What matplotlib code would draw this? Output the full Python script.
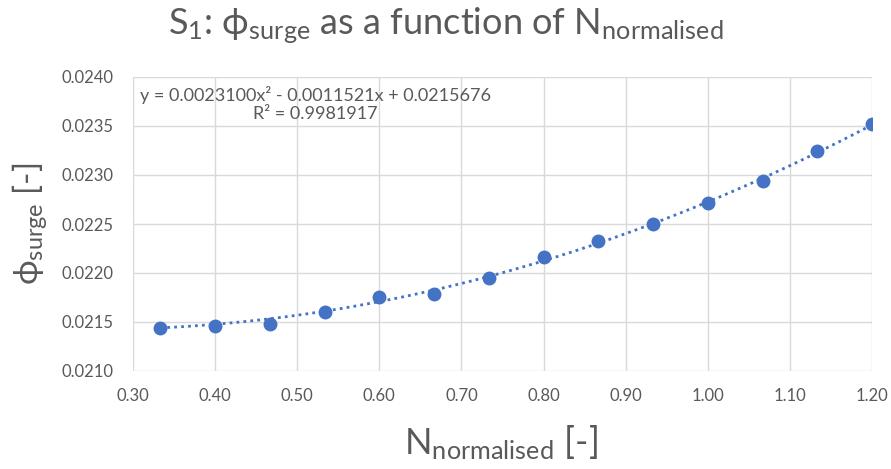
import matplotlib
matplotlib.use("Agg")
import matplotlib.pyplot as plt
import numpy as np
from matplotlib.ticker import FormatStrFormatter, MultipleLocator

# data
n_norm = [0.3333, 0.4000, 0.4667, 0.5333, 0.6000, 0.6667, 0.7333,
          0.8000, 0.8667, 0.9333, 1.0000, 1.0667, 1.1333, 1.2000]
phi_surge = [0.02144, 0.02146, 0.02148, 0.02160, 0.02176, 0.02179, 0.02195,
             0.02216, 0.02233, 0.02250, 0.02271, 0.02294, 0.02324, 0.02352]
# trendline as printed on the chart
coeffs = [0.0023100, -0.0011521, 0.0215676]
r2 = 0.9981917

blue = "#4472C4"
grey = "#595959"

plt.rcParams["font.family"] = ["Lato", "DejaVu Sans"]
plt.rcParams["mathtext.fontset"] = "custom"
plt.rcParams["mathtext.rm"] = "Lato"
plt.rcParams["mathtext.it"] = "Lato:italic"

W, H = 891, 469
fig = plt.figure(figsize=(W / 100, H / 100), dpi=100)
ax = fig.add_axes([133 / W, 1 - 371 / H, 739 / W, 294 / H])

xs = np.linspace(min(n_norm), max(n_norm), 200)
ax.plot(xs, np.polyval(coeffs, xs), color=blue, lw=2.0,
        linestyle=(0, (1, 1.5)), dash_capstyle="butt", zorder=2)
ax.plot(n_norm, phi_surge, "o", color=blue, ms=9, zorder=3)

ax.set_xlim(0.30, 1.20)
ax.set_ylim(0.0210, 0.0240)
ax.xaxis.set_major_locator(MultipleLocator(0.1))
ax.yaxis.set_major_locator(MultipleLocator(0.0005))
ax.xaxis.set_major_formatter(FormatStrFormatter("%.2f"))
ax.yaxis.set_major_formatter(FormatStrFormatter("%.4f"))
ax.grid(True, color="#d9d9d9", lw=1.0)
ax.set_axisbelow(True)
for s in ax.spines.values():
    s.set_visible(False)
ax.tick_params(length=0, labelsize=12, labelcolor=grey)
ax.tick_params(axis="x", pad=12)
ax.tick_params(axis="y", pad=14)

eq = ("y = %.7fx\u00b2 - %.7fx + %.7f\nR\u00b2 = %.7f"
      % (coeffs[0], -coeffs[1], coeffs[2], r2))
fig.text(315 / W, 1 - 86 / H, eq, ha="center", va="top",
         multialignment="center", fontsize=13, color=grey, linespacing=1.15)

fig.text(0.5, 1 - 34 / H,
         r"S$_1$: ϕ$_\mathrm{surge}$ as a function of N$_\mathrm{normalised}$",
         ha="center", va="baseline", fontsize=26, color=grey)
fig.text(30 / W, 0.523, r"ϕ$_\mathrm{surge}$ [-]", rotation=90,
         ha="center", va="center", fontsize=24, color=grey)
fig.text(501 / W, 1 - 454 / H, r"N$_\mathrm{normalised}$ [-]",
         ha="center", va="baseline", fontsize=26, color=grey)

fig.savefig("out.png", dpi=100)
